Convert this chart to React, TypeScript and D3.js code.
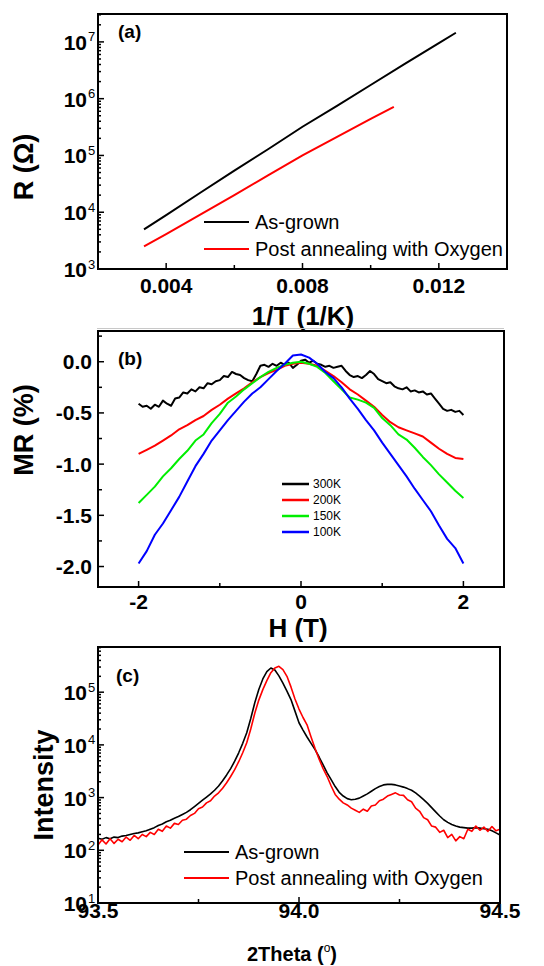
import { useEffect, useRef } from "react";
import * as d3 from "d3";

// ---- (a) resistance vs 1/T ----
const invTAsGrown = [0.00335, 0.004, 0.005, 0.006, 0.007, 0.008, 0.009, 0.01, 0.011, 0.012, 0.0125];
const rAsGrown = [5.0e3, 8.9e3, 2.2e4, 5.4e4, 1.3e5, 3.2e5, 7.4e5, 1.74e6, 4.1e6, 9.5e6, 1.45e7];
const invTAnnealed = [0.00335, 0.004, 0.005, 0.006, 0.007, 0.008, 0.009, 0.01, 0.01068];
const rAnnealed = [2.5e3, 4.1e3, 9.1e3, 2.0e4, 4.5e4, 1.0e5, 2.1e5, 4.4e5, 7.2e5];
const invTMajor = [0.004, 0.008, 0.012];
const invTMinor = [0.006, 0.01];

// ---- (b) magnetoresistance vs field ----
const fieldFine = [
  -2.0, -1.95, -1.9, -1.85, -1.8, -1.75, -1.7, -1.65, -1.6, -1.55,
  -1.5, -1.45, -1.4, -1.35, -1.3, -1.25, -1.2, -1.15, -1.1, -1.05,
  -1.0, -0.95, -0.9, -0.85, -0.8, -0.75, -0.7, -0.65, -0.6, -0.55,
  -0.5, -0.45, -0.4, -0.35, -0.3, -0.25, -0.2, -0.15, -0.1, -0.05,
  0.0, 0.05, 0.1, 0.15, 0.2, 0.25, 0.3, 0.35, 0.4, 0.45,
  0.5, 0.55, 0.6, 0.65, 0.7, 0.75, 0.8, 0.85, 0.9, 0.95,
  1.0, 1.05, 1.1, 1.15, 1.2, 1.25, 1.3, 1.35, 1.4, 1.45,
  1.5, 1.55, 1.6, 1.65, 1.7, 1.75, 1.8, 1.85, 1.9, 1.95, 2.0,
];
const mr300K = [
  -0.41, -0.44, -0.43, -0.46, -0.42, -0.44, -0.38, -0.41, -0.43, -0.36,
  -0.35, -0.3, -0.31, -0.27, -0.29, -0.25, -0.26, -0.21, -0.22, -0.19,
  -0.18, -0.14, -0.15, -0.1, -0.12, -0.13, -0.16, -0.18, -0.19, -0.12,
  -0.04, -0.03, -0.05, -0.02, -0.04, -0.01, -0.03, -0.01, -0.06, -0.03,
  0.01, 0.02, -0.01, 0.01, -0.02, -0.03, -0.05, -0.04, -0.06, -0.05,
  -0.04, -0.09, -0.13, -0.15, -0.14, -0.16, -0.13, -0.09, -0.12, -0.17,
  -0.19, -0.21, -0.2, -0.24, -0.26, -0.27, -0.25, -0.29, -0.28, -0.3,
  -0.29, -0.32, -0.31, -0.36, -0.41, -0.46, -0.48, -0.47, -0.49, -0.48, -0.52,
];
const field = [
  -2.0, -1.9, -1.8, -1.7, -1.6, -1.5, -1.4, -1.3, -1.2, -1.1,
  -1.0, -0.9, -0.8, -0.7, -0.6, -0.5, -0.4, -0.3, -0.2, -0.1,
  0.0, 0.1, 0.2, 0.3, 0.4, 0.5, 0.6, 0.7, 0.8, 0.9,
  1.0, 1.1, 1.2, 1.3, 1.4, 1.5, 1.6, 1.7, 1.8, 1.9, 2.0,
];
const mr200K = [
  -0.9, -0.86, -0.82, -0.77, -0.72, -0.66, -0.62, -0.57, -0.53, -0.47,
  -0.42, -0.36, -0.31, -0.26, -0.2, -0.15, -0.11, -0.08, -0.04, -0.02,
  -0.01, -0.02, -0.04, -0.09, -0.14, -0.2, -0.27, -0.32, -0.38, -0.44,
  -0.52, -0.59, -0.64, -0.67, -0.7, -0.73, -0.79, -0.85, -0.9, -0.94, -0.95,
];
const mr150K = [
  -1.38, -1.3, -1.22, -1.12, -1.04, -0.95, -0.87, -0.77, -0.71, -0.6,
  -0.51, -0.4, -0.34, -0.27, -0.21, -0.15, -0.1, -0.06, -0.03, -0.01,
  0.0, -0.02, -0.05, -0.11, -0.19, -0.27, -0.35, -0.37, -0.4, -0.45,
  -0.55, -0.62, -0.71, -0.76, -0.84, -0.93, -1.01, -1.1, -1.18, -1.26, -1.33,
];
const mr100K = [
  -1.97, -1.85, -1.69, -1.58, -1.45, -1.32, -1.17, -1.02, -0.9, -0.77,
  -0.67, -0.57, -0.48, -0.39, -0.31, -0.25, -0.17, -0.09, -0.02, 0.06,
  0.07, 0.04, -0.02, -0.1, -0.16, -0.25, -0.36, -0.46, -0.57, -0.67,
  -0.79, -0.9, -1.01, -1.12, -1.24, -1.35, -1.46, -1.6, -1.73, -1.82, -1.97,
];
const mrLabels = ["300K", "200K", "150K", "100K"];
const mrColors = ["#000000", "#ff0000", "#00ee00", "#0000ff"];
const fieldMajor = [-2, 0, 2];
const fieldMinor = [-1, 1];
const mrMajor = [0, -0.5, -1, -1.5, -2];
const mrMinor = [0.25, -0.25, -0.75, -1.25, -1.75];

// ---- (c) XRD scan ----
const twoTheta = [
  93.5, 93.51, 93.52, 93.53, 93.54, 93.55, 93.56, 93.57, 93.58, 93.59,
  93.6, 93.61, 93.62, 93.63, 93.64, 93.65, 93.66, 93.67, 93.68, 93.69,
  93.7, 93.71, 93.72, 93.73, 93.74, 93.75, 93.76, 93.77, 93.78, 93.79,
  93.8, 93.81, 93.82, 93.83, 93.84, 93.85, 93.86, 93.87, 93.88, 93.89,
  93.9, 93.91, 93.92, 93.93, 93.94, 93.95, 93.96, 93.97, 93.98, 93.99,
  94.0, 94.01, 94.02, 94.03, 94.04, 94.05, 94.06, 94.07, 94.08, 94.09,
  94.1, 94.11, 94.12, 94.13, 94.14, 94.15, 94.16, 94.17, 94.18, 94.19,
  94.2, 94.21, 94.22, 94.23, 94.24, 94.25, 94.26, 94.27, 94.28, 94.29,
  94.3, 94.31, 94.32, 94.33, 94.34, 94.35, 94.36, 94.37, 94.38, 94.39,
  94.4, 94.41, 94.42, 94.43, 94.44, 94.45, 94.46, 94.47, 94.48, 94.49, 94.5,
];
const intAsGrown = [
  170, 162, 174, 166, 178, 174, 186, 191, 200, 209,
  214, 224, 234, 251, 269, 295, 316, 347, 372, 407,
  437, 479, 525, 589, 676, 776, 891, 1023, 1175, 1380,
  1660, 2090, 2690, 3550, 4900, 7080, 10700, 17000, 31600, 63100,
  112000, 178000, 245000, 288000, 263000, 204000, 148000, 105000, 72400, 43700,
  26300, 19100, 14100, 10700, 8130, 5890, 4170, 2950, 2190, 1620,
  1260, 1070, 955, 912, 933, 977, 1070, 1175, 1320, 1480,
  1620, 1740, 1780, 1780, 1740, 1660, 1580, 1480, 1380, 1230,
  1070, 912, 776, 646, 537, 447, 380, 339, 309, 288,
  275, 269, 263, 263, 269, 263, 257, 251, 234, 214, 195,
];
const intAnnealed = [
  126, 158, 132, 166, 135, 162, 145, 178, 155, 191,
  166, 200, 182, 219, 200, 251, 229, 288, 263, 324,
  309, 372, 389, 457, 501, 617, 661, 794, 871, 1070,
  1230, 1510, 1910, 2510, 3390, 4790, 7080, 11000, 20000, 39800,
  70800, 112000, 166000, 234000, 288000, 309000, 269000, 200000, 126000, 74100,
  47900, 33100, 24000, 14100, 8510, 5370, 3550, 2510, 1660, 1150,
  933, 794, 724, 631, 575, 525, 603, 550, 692, 724,
  871, 933, 1070, 1150, 1230, 1120, 1100, 912, 832, 631,
  550, 417, 380, 288, 275, 219, 240, 174, 200, 151,
  182, 166, 251, 229, 288, 240, 275, 229, 282, 234, 251,
];
const thetaMajor = [93.5, 94.0, 94.5];
const thetaMinor = [93.75, 94.25];
const sampleNames = ["As-grown", "Post annealing with Oxygen"];
const sampleColors = ["#000000", "#ff0000"];

const FONT = "'Liberation Sans', Arial, Helvetica, sans-serif";

type Box = { left: number; right: number; top: number; bottom: number };

function label(g: any, x: number, y: number, s: string, size: number, bold = false, anchor = "start") {
  return g
    .append("text")
    .attr("x", x)
    .attr("y", y)
    .attr("font-size", size)
    .attr("font-weight", bold ? "bold" : "normal")
    .attr("text-anchor", anchor)
    .text(s);
}

function tick(g: any, x1: number, y1: number, x2: number, y2: number) {
  g.append("line")
    .attr("x1", x1).attr("y1", y1).attr("x2", x2).attr("y2", y2)
    .attr("stroke", "#000").attr("stroke-width", 1.5);
}

function xAxis(g: any, x: any, box: Box, major: number[], minor: number[], fmt: (v: number) => string, labelY: number) {
  major.forEach((v) => {
    tick(g, x(v), box.bottom, x(v), box.bottom - 6);
    label(g, x(v), labelY, fmt(v), 21, true, "middle");
  });
  minor.forEach((v) => tick(g, x(v), box.bottom, x(v), box.bottom - 4));
}

function linYAxis(g: any, y: any, box: Box, major: number[], minor: number[], fmt: (v: number) => string) {
  major.forEach((v) => {
    tick(g, box.left, y(v), box.left + 6, y(v));
    label(g, box.left - 6, y(v) + 7.5, fmt(v), 21, true, "end");
  });
  minor.forEach((v) => tick(g, box.left, y(v), box.left + 4, y(v)));
}

function logYAxis(g: any, y: any, box: Box) {
  y.ticks().forEach((v: number) => {
    const e = Math.log10(v);
    const isMajor = Math.abs(e - Math.round(e)) < 1e-6;
    tick(g, box.left, y(v), box.left + (isMajor ? 6 : 3), y(v));
    if (isMajor) {
      label(g, box.left - 11, y(v) + 8, "10", 21, true, "end");
      label(g, box.left - 10, y(v) - 0.5, String(Math.round(e)), 13);
    }
  });
}

function frame(g: any, box: Box) {
  g.append("rect")
    .attr("x", box.left).attr("y", box.top)
    .attr("width", box.right - box.left).attr("height", box.bottom - box.top)
    .attr("fill", "none").attr("stroke", "#000").attr("stroke-width", 2);
}

function clip(svg: any, id: string, box: Box) {
  svg.append("defs").append("clipPath").attr("id", id)
    .append("rect")
    .attr("x", box.left).attr("y", box.top)
    .attr("width", box.right - box.left).attr("height", box.bottom - box.top);
}

function yTitle(g: any, x: number, y: number, s: string, size: number) {
  g.append("text")
    .attr("transform", `translate(${x},${y}) rotate(-90)`)
    .attr("text-anchor", "middle")
    .attr("font-size", size)
    .attr("font-weight", "bold")
    .text(s);
}

function legend(g: any, x1: number, x2: number, ys: number[], names: string[], colors: string[], size: number, width: number) {
  names.forEach((n, i) => {
    g.append("line")
      .attr("x1", x1).attr("x2", x2).attr("y1", ys[i]).attr("y2", ys[i])
      .attr("stroke", colors[i]).attr("stroke-width", width);
    label(g, x2 + (size > 14 ? 6 : 4), ys[i] + size * 0.36, n, size);
  });
}

export default function App() {
  const svgRef = useRef<SVGSVGElement | null>(null);

  useEffect(() => {
    const svg = d3.select(svgRef.current);
    svg.selectAll("*").remove();
    svg.attr("font-family", FONT);
    const g = svg.append("g");

    // ===== panel (a) =====
    const boxA: Box = { left: 98, right: 507, top: 14, bottom: 269 };
    const xA = d3.scaleLinear().domain([0.002, 0.014]).range([boxA.left, boxA.right]);
    const yA = d3.scaleLog().domain([1e3, 3.1e7]).range([boxA.bottom, boxA.top]);
    clip(svg, "clipA", boxA);
    const lineA = d3.line<[number, number]>().x((d) => xA(d[0])).y((d) => yA(d[1]));
    const aSeries: [number[], number[]][] = [
      [invTAsGrown, rAsGrown],
      [invTAnnealed, rAnnealed],
    ];
    aSeries.forEach(([xs, ys], i) => {
      g.append("path")
        .attr("d", lineA(xs.map((v, j) => [v, ys[j]] as [number, number])))
        .attr("fill", "none").attr("stroke", sampleColors[i]).attr("stroke-width", 2)
        .attr("clip-path", "url(#clipA)");
    });
    xAxis(g, xA, boxA, invTMajor, invTMinor, (v) => v.toFixed(3), 293);
    logYAxis(g, yA, boxA);
    frame(g, boxA);
    label(g, 118, 38, "(a)", 19, true);
    legend(g, 204, 249, [222, 249], sampleNames, sampleColors, 20, 2);
    yTitle(g, 33, 167, "R (\u03A9)", 27);
    label(g, 303, 325, "1/T (1/K)", 26, true, "middle");
    g.append("line").attr("x1", 97).attr("x2", 504).attr("y1", 328.5).attr("y2", 328.5)
      .attr("stroke", "#c8c8c8").attr("stroke-width", 1);

    // ===== panel (b) =====
    const boxB: Box = { left: 98, right: 504, top: 331, bottom: 587 };
    const xB = d3.scaleLinear().domain([-2.5, 2.5]).range([boxB.left, boxB.right]);
    const yB = d3.scaleLinear().domain([-2.2, 0.3]).range([boxB.bottom, boxB.top]);
    clip(svg, "clipB", boxB);
    const lineB = d3.line<[number, number]>().x((d) => xB(d[0])).y((d) => yB(d[1]));
    const bSeries: [number[], number[]][] = [
      [fieldFine, mr300K],
      [field, mr200K],
      [field, mr150K],
      [field, mr100K],
    ];
    bSeries.forEach(([xs, ys], i) => {
      g.append("path")
        .attr("d", lineB(xs.map((v, j) => [v, ys[j]] as [number, number])))
        .attr("fill", "none").attr("stroke", mrColors[i]).attr("stroke-width", 2)
        .attr("stroke-linejoin", "round")
        .attr("clip-path", "url(#clipB)");
    });
    xAxis(g, xB, boxB, fieldMajor, fieldMinor, (v) => String(v), 609);
    linYAxis(g, yB, boxB, mrMajor, mrMinor, (v) => v.toFixed(1));
    frame(g, boxB);
    label(g, 118, 365, "(b)", 19, true);
    legend(g, 282, 309, [484, 500, 516, 532], mrLabels, mrColors, 12, 2.5);
    yTitle(g, 33, 430, "MR (%)", 27);
    label(g, 298, 637, "H (T)", 26, true, "middle");

    // ===== panel (c) =====
    const boxC: Box = { left: 98, right: 500, top: 647, bottom: 903 };
    const xC = d3.scaleLinear().domain([93.5, 94.5]).range([boxC.left, boxC.right]);
    const yC = d3.scaleLog().domain([10, 7.2e5]).range([boxC.bottom, boxC.top]);
    clip(svg, "clipC", boxC);
    const lineC = d3.line<[number, number]>().x((d) => xC(d[0])).y((d) => yC(d[1]));
    [intAsGrown, intAnnealed].forEach((ys, i) => {
      g.append("path")
        .attr("d", lineC(twoTheta.map((v, j) => [v, ys[j]] as [number, number])))
        .attr("fill", "none").attr("stroke", sampleColors[i]).attr("stroke-width", 1.6)
        .attr("stroke-linejoin", "round")
        .attr("clip-path", "url(#clipC)");
    });
    xAxis(g, xC, boxC, thetaMajor, thetaMinor, (v) => v.toFixed(1), 918);
    logYAxis(g, yC, boxC);
    frame(g, boxC);
    label(g, 116, 682, "(c)", 19, true);
    legend(g, 184, 229, [852, 878], sampleNames, sampleColors, 20, 2);
    yTitle(g, 53, 785, "Intensity", 27);
    const xt = g.append("text")
      .attr("x", 292).attr("y", 961)
      .attr("text-anchor", "middle")
      .attr("font-size", 20).attr("font-weight", "bold");
    xt.append("tspan").text("2Theta (");
    xt.append("tspan").attr("font-size", 12).attr("font-weight", "normal").attr("dy", -9).text("o");
    xt.append("tspan").attr("dy", 9).text(")");
  }, []);

  return (
    <div style={{ position: "absolute", left: 0, top: 0, width: 544, height: 966, background: "#fff" }}>
      <svg ref={svgRef} width={544} height={966} style={{ display: "block" }} />
    </div>
  );
}
